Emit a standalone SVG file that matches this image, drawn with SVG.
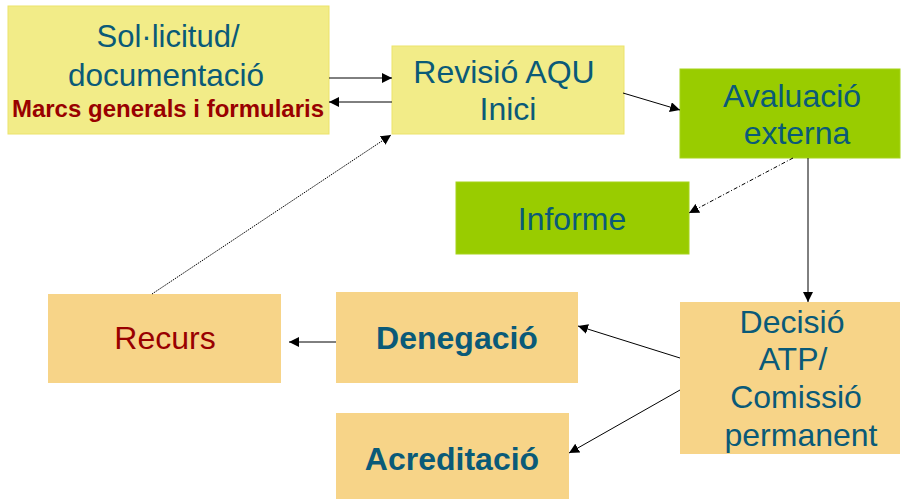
<svg xmlns="http://www.w3.org/2000/svg" width="901" height="499" viewBox="0 0 901 499">
<style>
text{font-family:"Liberation Sans",Arial,sans-serif;text-anchor:middle}
.t{font-size:32px;fill:#0a5a78}
.tb{font-size:32px;fill:#0a5a78;font-weight:bold}
.red{fill:#990000}
.yel{fill:#f2ec88;stroke:#ece36a;stroke-width:1}
.grn{fill:#99cc00;stroke:#a6d41a;stroke-width:1}
.org{fill:#f7d488}
.c{stroke:#000;stroke-width:1;fill:none}
</style>
<defs>
<marker id="ah" viewBox="0 0 10 10" refX="10" refY="5" markerWidth="10" markerHeight="10" markerUnits="userSpaceOnUse" orient="auto">
<path d="M0,0 L10,5 L0,10 Z" fill="#000"/>
</marker>
</defs>
<rect width="901" height="499" fill="#fff"/>
<g id="sol">
<rect class="yel" x="8" y="6" width="321" height="128"/>
<text class="t" x="168" y="47" style="font-size:31px">Sol·licitud/</text>
<text class="t" x="166" y="86" style="font-size:31.5px">documentació</text>
<text class="red" x="168" y="117" style="font-size:24px;font-weight:bold">Marcs generals i formularis</text>
</g>
<g id="revisio">
<rect class="yel" x="392" y="46" width="232" height="88"/>
<text class="t" x="504" y="83">Revisió AQU</text>
<text class="t" x="508" y="120">Inici</text>
</g>
<g id="avaluacio">
<rect class="grn" x="680" y="69" width="220" height="89"/>
<text class="t" x="792" y="107">Avaluació</text>
<text class="t" x="797" y="144">externa</text>
</g>
<g id="informe">
<rect class="grn" x="456" y="182" width="233" height="72"/>
<text class="t" x="572" y="230">Informe</text>
</g>
<g id="decisio">
<rect class="org" x="680" y="302" width="220" height="152"/>
<text class="t" x="792" y="333">Decisió</text>
<text class="t" x="793" y="370">ATP/</text>
<text class="t" x="796" y="408">Comissió</text>
<text class="t" x="801" y="446">permanent</text>
</g>
<g id="denegacio">
<rect class="org" x="336" y="292" width="242" height="91"/>
<text class="tb" x="457" y="349">Denegació</text>
</g>
<g id="acreditacio">
<rect class="org" x="336" y="413" width="233" height="90"/>
<text class="tb" x="452" y="470">Acreditació</text>
</g>
<g id="recurs">
<rect class="org" x="48" y="294" width="233" height="89"/>
<text class="t red" x="165" y="349">Recurs</text>
</g>
<g id="connectors">
<line class="c" x1="329" y1="78" x2="392" y2="78" marker-end="url(#ah)"/>
<line class="c" x1="392" y1="102" x2="329" y2="102" marker-end="url(#ah)"/>
<line class="c" x1="623" y1="93" x2="680" y2="110" marker-end="url(#ah)"/>
<line class="c" x1="793" y1="158" x2="689" y2="213" stroke-dasharray="4,2,1,2" marker-end="url(#ah)"/>
<line class="c" x1="808" y1="158" x2="808" y2="302" marker-end="url(#ah)"/>
<line class="c" x1="680" y1="358" x2="578" y2="326" marker-end="url(#ah)"/>
<line class="c" x1="680" y1="390" x2="569" y2="453" marker-end="url(#ah)"/>
<line class="c" x1="336" y1="342" x2="289" y2="342" marker-end="url(#ah)"/>
<line class="c" x1="152" y1="294" x2="391" y2="135" stroke="#555" stroke-dasharray="1.5,1" marker-end="url(#ah)"/>
</g>
</svg>
